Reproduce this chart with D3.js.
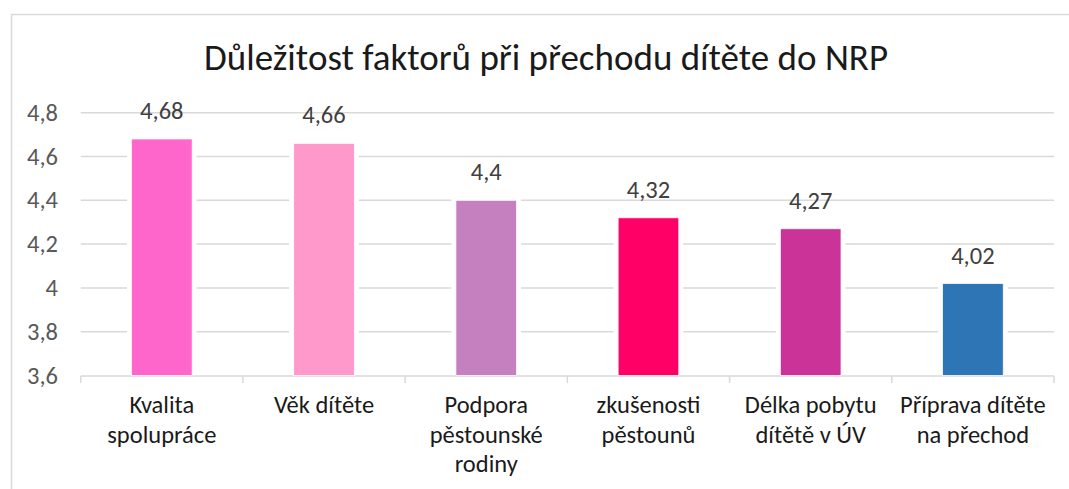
<!DOCTYPE html>
<html>
<head>
  <meta charset="utf-8">
  <script src="https://cdnjs.cloudflare.com/ajax/libs/d3/7.8.5/d3.min.js"></script>
  <style>
    body { margin: 0; background: #fff; }
    text { font-family: Carlito, "Open Sans", sans-serif; }
  </style>
</head>
<body>
  <svg id="chart" width="1069" height="489"></svg>
  <script>
    var categories = [
      ["Kvalita", "spolupráce"],
      ["Věk dítěte"],
      ["Podpora", "pěstounské", "rodiny"],
      ["zkušenosti", "pěstounů"],
      ["Délka pobytu", "dítětě v ÚV"],
      ["Příprava dítěte", "na přechod"]
    ];
    var values = [4.68, 4.66, 4.4, 4.32, 4.27, 4.02];
    var colors = ["#FF66CC", "#FF99CC", "#C580C0", "#FF0066", "#CC3399", "#2E75B6"];
    var yTicks = [3.6, 3.8, 4.0, 4.2, 4.4, 4.6, 4.8];

    var svg = d3.select("#chart");
    var fmt = function(v) { return String(v).replace(".", ","); };

    // chart border (only top and left are visible in the crop)
    svg.append("rect")
      .attr("x", 11.5).attr("y", 14.5)
      .attr("width", 1200).attr("height", 600)
      .attr("fill", "none").attr("stroke", "#D9D9D9").attr("stroke-width", 1.5);

    svg.append("text")
      .attr("x", 546).attr("y", 70)
      .attr("text-anchor", "middle")
      .attr("font-size", 37)
      .attr("fill", "#1a1a1a")
      .text("Důležitost faktorů při přechodu dítěte do NRP");

    var x = d3.scaleBand()
      .domain(d3.range(categories.length))
      .range([80.7, 1054])
      .paddingInner(0.626).paddingOuter(0.313);

    var y = d3.scaleLinear().domain([3.6, 4.8]).range([375.5, 112.7]);

    // gridlines
    svg.append("g").selectAll("line")
      .data(yTicks.slice(1))
      .enter().append("line")
      .attr("x1", 80.7).attr("x2", 1054)
      .attr("y1", d => y(d)).attr("y2", d => y(d))
      .attr("stroke", "#D9D9D9").attr("stroke-width", 1.5);

    // y tick labels
    svg.append("g").selectAll("text")
      .data(yTicks)
      .enter().append("text")
      .attr("x", 58).attr("y", d => y(d) + 8)
      .attr("text-anchor", "end")
      .attr("font-size", 24.5)
      .attr("fill", "#595959")
      .text(d => fmt(d));

    // x axis
    var xAxis = svg.append("g");
    xAxis.append("line")
      .attr("x1", 80.7).attr("x2", 1054)
      .attr("y1", 376).attr("y2", 376)
      .attr("stroke", "#D9D9D9").attr("stroke-width", 1.5);
    var step = x.step();
    xAxis.selectAll("line.tick")
      .data(d3.range(categories.length + 1))
      .enter().append("line")
      .attr("class", "tick")
      .attr("x1", d => 80.7 + d * step).attr("x2", d => 80.7 + d * step)
      .attr("y1", 376).attr("y2", 383)
      .attr("stroke", "#D9D9D9").attr("stroke-width", 1.5);

    // white halo behind bars (gridlines are cut around them)
    svg.append("g").selectAll("rect")
      .data(values)
      .enter().append("rect")
      .attr("x", (d, i) => x(i) - 4.5)
      .attr("y", d => y(d) - 4.5)
      .attr("width", x.bandwidth() + 9)
      .attr("height", d => y(3.6) - y(d) + 4)
      .attr("fill", "#fff");

    svg.append("g").selectAll("rect")
      .data(values)
      .enter().append("rect")
      .attr("x", (d, i) => x(i))
      .attr("y", d => y(d))
      .attr("width", x.bandwidth())
      .attr("height", d => y(3.6) - y(d))
      .attr("fill", (d, i) => colors[i])
      .attr("stroke", "#fff").attr("stroke-width", 0.75);

    // data labels
    svg.append("g").selectAll("text")
      .data(values)
      .enter().append("text")
      .attr("x", (d, i) => x(i) + x.bandwidth() / 2)
      .attr("y", d => y(d) - 20)
      .attr("text-anchor", "middle")
      .attr("font-size", 24.5)
      .attr("fill", "#404040")
      .text(d => fmt(d));

    // category labels
    var cat = svg.append("g").selectAll("text")
      .data(categories)
      .enter().append("text")
      .attr("x", (d, i) => x(i) + x.bandwidth() / 2)
      .attr("y", 413)
      .attr("text-anchor", "middle")
      .attr("font-size", 24.5)
      .attr("fill", "#1a1a1a");
    cat.selectAll("tspan")
      .data(d => d)
      .enter().append("tspan")
      .attr("x", function() { return d3.select(this.parentNode).attr("x"); })
      .attr("dy", (d, i) => i === 0 ? 0 : 29.5)
      .text(d => d);
  </script>
</body>
</html>
